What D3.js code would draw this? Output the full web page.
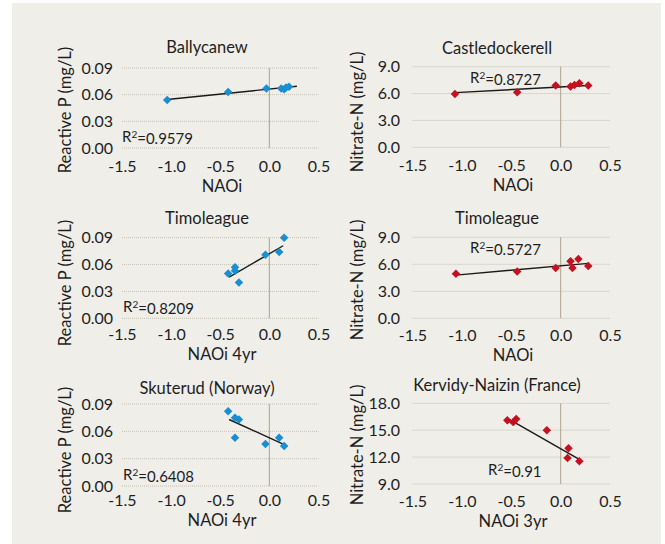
<!DOCTYPE html>
<meta charset="utf-8">
<style>
  body { margin: 0; background: #fff; }
  text { font-family: Lato, "Open Sans", sans-serif; fill: #1e1e1e; }
</style>
<body>
<div id="chart"></div>
<script src="https://d3js.org/d3.v7.min.js"></script>
<script>
// ---- data ----
var ballyX = [-1.04, -0.42, -0.03, 0.12, 0.15, 0.17, 0.20];
var ballyY = [0.054, 0.063, 0.067, 0.067, 0.066, 0.068, 0.069];
var ballyTrendX = [-1.04, 0.28], ballyTrendY = [0.0545, 0.0695];

var castX = [-1.07, -0.44, -0.05, 0.10, 0.14, 0.19, 0.28];
var castY = [5.95, 6.15, 6.9, 6.8, 6.95, 7.15, 6.9];
var castTrendX = [-1.07, 0.28], castTrendY = [6.1, 6.9];

var timPX = [-0.42, -0.35, -0.35, -0.31, -0.04, 0.10, 0.15];
var timPY = [0.050, 0.053, 0.057, 0.040, 0.071, 0.074, 0.090];
var timPTrendX = [-0.41, 0.14], timPTrendY = [0.046, 0.081];

var timNX = [-1.06, -0.44, -0.05, 0.10, 0.12, 0.18, 0.28];
var timNY = [4.95, 5.2, 5.6, 6.35, 5.6, 6.6, 5.8];
var timNTrendX = [-1.06, 0.28], timNTrendY = [4.8, 6.1];

var skuX = [-0.42, -0.35, -0.31, -0.35, -0.04, 0.10, 0.15];
var skuY = [0.082, 0.075, 0.073, 0.053, 0.046, 0.053, 0.044];
var skuTrendX = [-0.41, 0.14], skuTrendY = [0.073, 0.046];

var kerX = [-0.54, -0.48, -0.45, -0.14, 0.08, 0.07, 0.19];
var kerY = [16.1, 15.9, 16.25, 15.0, 13.0, 11.9, 11.55];
var kerTrendX = [-0.52, 0.18], kerTrendY = [16.2, 11.8];

var xTicks = [-1.5, -1.0, -0.5, 0.0, 0.5];
var xTickLabels = ["-1.5", "-1.0", "-0.5", "0.0", "0.5"];
var pTicks = [0, 0.03, 0.06, 0.09];
var pTickLabels = ["0.00", "0.03", "0.06", "0.09"];
var nTicks = [0, 3, 6, 9];
var nTickLabels = ["0.0", "3.0", "6.0", "9.0"];
var kTicks = [9, 12, 15, 18];
var kTickLabels = ["9.0", "12.0", "15.0", "18.0"];

var blue = "#1b8ecf", red = "#c3111f";

var W = 665, H = 544;
var svg = d3.select("#chart").append("svg")
  .attr("width", W).attr("height", H);

svg.append("rect")
  .attr("x", 12).attr("y", 3).attr("width", 649).attr("height", 541)
  .attr("fill", "#efeee9");

// layout of each panel
var panels = [
  { title: "Ballycanew", xt: "NAOi", yt: "Reactive P (mg/L)", xs: ballyX, ys: ballyY, tx: ballyTrendX, ty: ballyTrendY,
    yTicks: pTicks, yLabels: pTickLabels, col: 0, top: 68, bot: 148, tickY: 166, titleY: 47, xtY: 186, ytY: 110,
    r2: "0.9579", r2x: 122, r2y: 137, color: blue },
  { title: "Castledockerell", xt: "NAOi", yt: "Nitrate-N (mg/L)", xs: castX, ys: castY, tx: castTrendX, ty: castTrendY,
    yTicks: nTicks, yLabels: nTickLabels, col: 1, top: 66.7, bot: 147.3, tickY: 165, titleY: 48, xtY: 185, ytY: 112,
    r2: "0.8727", r2x: 470, r2y: 78, color: red },
  { title: "Timoleague", xt: "NAOi 4yr", yt: "Reactive P (mg/L)", xs: timPX, ys: timPY, tx: timPTrendX, ty: timPTrendY,
    yTicks: pTicks, yLabels: pTickLabels, col: 0, top: 237.7, bot: 318.3, tickY: 334, titleY: 218, xtY: 354, ytY: 283,
    r2: "0.8209", r2x: 123, r2y: 307, color: blue },
  { title: "Timoleague", xt: "NAOi", yt: "Nitrate-N (mg/L)", xs: timNX, ys: timNY, tx: timNTrendX, ty: timNTrendY,
    yTicks: nTicks, yLabels: nTickLabels, col: 1, top: 237.3, bot: 318.3, tickY: 335, titleY: 218, xtY: 355, ytY: 280,
    r2: "0.5727", r2x: 470, r2y: 248, color: red },
  { title: "Skuterud (Norway)", xt: "NAOi 4yr", yt: "Reactive P (mg/L)", xs: skuX, ys: skuY, tx: skuTrendX, ty: skuTrendY,
    yTicks: pTicks, yLabels: pTickLabels, col: 0, top: 404, bot: 486, tickY: 500, titleY: 388, xtY: 520, ytY: 450,
    r2: "0.6408", r2x: 123, r2y: 475, color: blue },
  { title: "Kervidy-Naizin (France)", xt: "NAOi 3yr", yt: "Nitrate-N (mg/L)", xs: kerX, ys: kerY, tx: kerTrendX, ty: kerTrendY,
    yTicks: kTicks, yLabels: kTickLabels, col: 1, top: 403.3, bot: 484, tickY: 501, titleY: 385, xtY: 521, ytY: 445,
    r2: "0.91", r2x: 488, r2y: 470, color: red }
];

var cols = [
  { x0: 122, x1: 318.5, tickRight: 113, ytX: 65, titleX: 207, xtX: 222 },
  { x0: 412.5, x1: 610, tickRight: 400, ytX: 357, titleX: 497, xtX: 513 }
];

var tickFont = "16px", titleFont = "16.5px", axisFont = "16.5px";

panels.forEach(function(p) {
  var c = cols[p.col];
  var x = d3.scaleLinear().domain([-1.5, 0.5]).range([c.x0, c.x1]);
  var y = d3.scaleLinear().domain([p.yTicks[0], p.yTicks[p.yTicks.length - 1]]).range([p.bot, p.top]);
  var g = svg.append("g");

  // dotted gridlines
  g.selectAll(".grid").data(p.yTicks).enter().append("line")
    .attr("x1", c.x0).attr("x2", c.x1)
    .attr("y1", function(d) { return y(d); }).attr("y2", function(d) { return y(d); })
    .attr("stroke", "#c4bfb0").attr("stroke-width", 1).attr("stroke-dasharray", "1,1");

  // vertical axis line at x = 0
  g.append("line")
    .attr("x1", x(0)).attr("x2", x(0)).attr("y1", p.top).attr("y2", p.bot)
    .attr("stroke", "#b7af9b").attr("stroke-width", 1.2);

  // x axis labels
  var xa = g.append("g")
    .attr("transform", "translate(0," + p.tickY + ")")
    .call(d3.axisBottom(x).tickValues(xTicks).tickSize(0)
      .tickFormat(function(d, i) { return xTickLabels[i]; }));
  xa.select(".domain").remove();
  xa.selectAll("text").attr("dy", "0.35em").attr("y", 0)
    .style("font-family", "Lato, sans-serif").style("font-size", tickFont).attr("fill", "#1e1e1e");

  // y axis labels
  var ya = g.append("g")
    .attr("transform", "translate(" + c.tickRight + ",0)")
    .call(d3.axisLeft(y).tickValues(p.yTicks).tickSize(0)
      .tickFormat(function(d, i) { return p.yLabels[i]; }));
  ya.select(".domain").remove();
  ya.selectAll("text").attr("x", 0)
    .style("font-family", "Lato, sans-serif").style("font-size", tickFont).attr("fill", "#1e1e1e");

  // trend line
  var line = d3.line().x(function(d) { return x(d[0]); }).y(function(d) { return y(d[1]); });
  g.append("path")
    .datum(d3.zip(p.tx, p.ty))
    .attr("d", line)
    .attr("fill", "none").attr("stroke", "#1a1a1a").attr("stroke-width", 1.4);

  // markers
  var sym = d3.symbol().type(d3.symbolSquare).size(36);
  g.selectAll(".pt").data(d3.zip(p.xs, p.ys)).enter().append("path")
    .attr("d", sym)
    .attr("transform", function(d) { return "translate(" + x(d[0]) + "," + y(d[1]) + ") rotate(45)"; })
    .attr("fill", p.color);

  // titles
  g.append("text").attr("x", c.titleX).attr("y", p.titleY).attr("dy", "0.35em")
    .attr("text-anchor", "middle").style("font-size", titleFont).text(p.title);
  g.append("text").attr("x", c.xtX).attr("y", p.xtY).attr("dy", "0.35em")
    .attr("text-anchor", "middle").style("font-size", axisFont).text(p.xt);
  g.append("text")
    .attr("transform", "translate(" + c.ytX + "," + p.ytY + ") rotate(-90)")
    .attr("dy", "0.35em").attr("text-anchor", "middle").style("font-size", axisFont).text(p.yt);

  // R squared
  var r = g.append("text").attr("x", p.r2x).attr("y", p.r2y).attr("dy", "0.35em")
    .style("font-size", "15px");
  r.append("tspan").text("R");
  r.append("tspan").attr("dy", "-0.4em").style("font-size", "10px").text("2");
  r.append("tspan").attr("dy", "0.4em").text("=" + p.r2);
});
</script>
</body>
